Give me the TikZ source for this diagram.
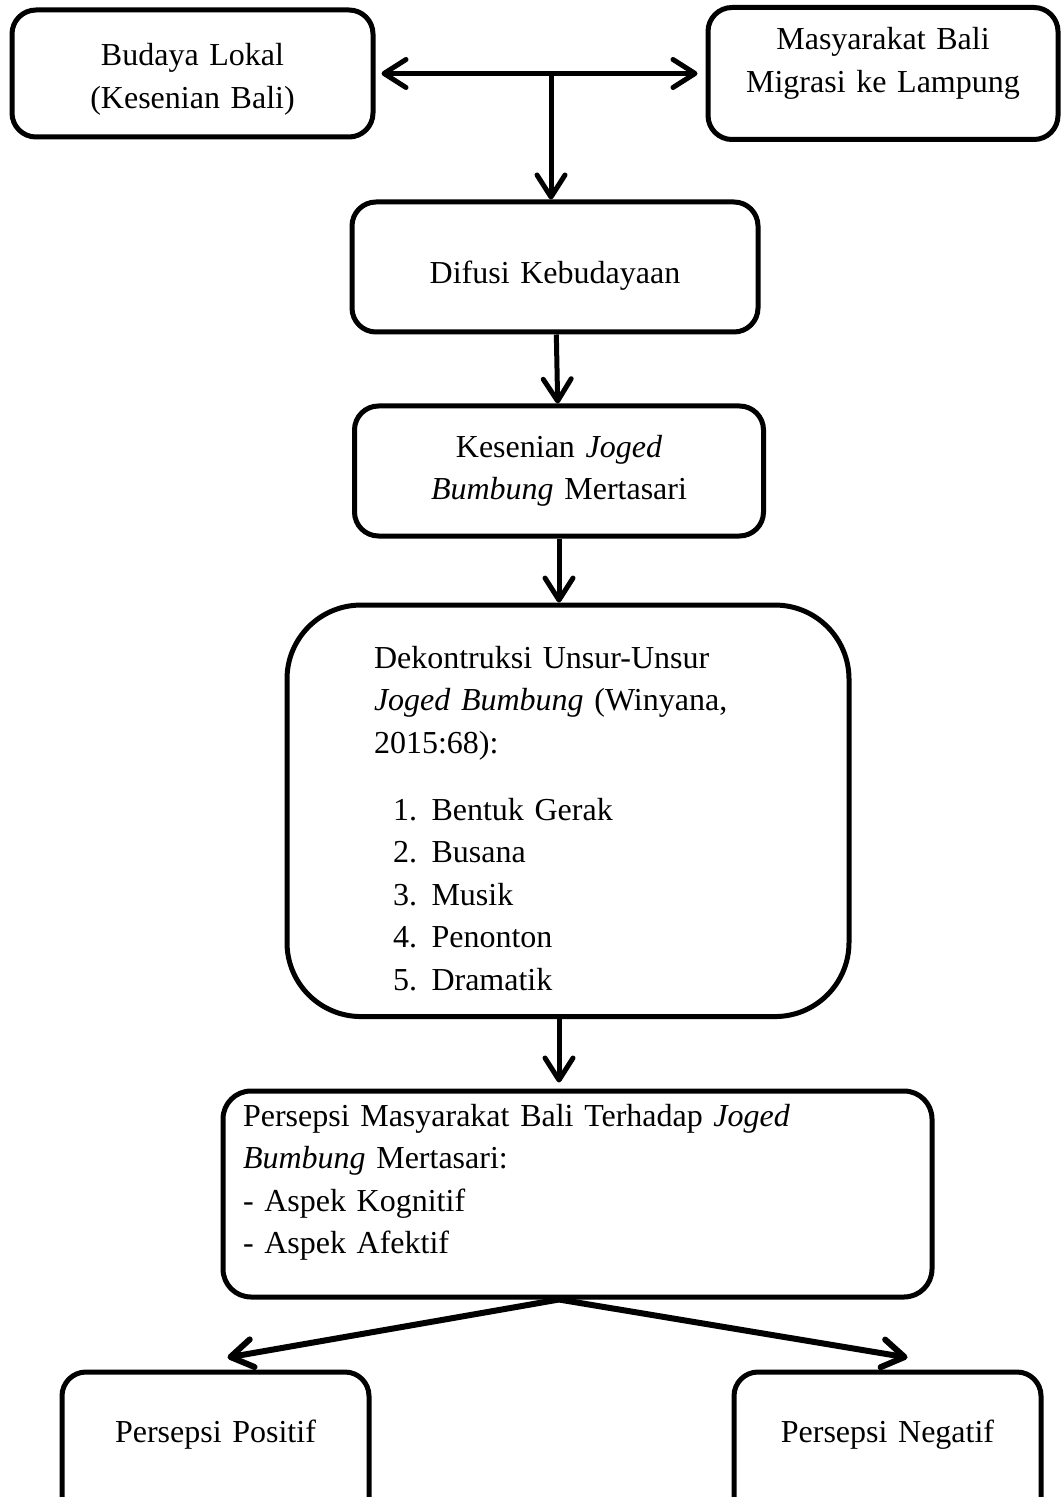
\documentclass[tikz,border=0pt]{standalone}
\usepackage{fontspec}
\setmainfont{Liberation Serif}
\usepackage{tikz}
\usetikzlibrary{arrows.meta}
\tikzstyle{block} = [rectangle, draw, line width=2.5pt, rounded corners=12pt, text width=140pt, text centered]
\tikzstyle{line} = [draw, line width=2.5pt, ->]
\tikzstyle{fork} = [draw, line width=3pt, ->]

\begin{document}
\begin{tikzpicture}[node distance=102pt, auto,
    font=\fontsize{16}{21.25}\selectfont,
    >={Straight Barb[length=11pt,width=14pt,round]}]
      \useasboundingbox (0,0) rectangle (530.5pt,-748.5pt);
      \node [block, minimum width=180.5pt, minimum height=63.5pt, text depth=19pt] (lokal) at (96.25pt,-36.75pt) {Budaya Lokal\\(Kesenian Bali)};
      \node [block, node distance=345.25pt, right of=lokal, minimum width=175pt, minimum height=66pt, text depth=35pt] (migrasi) {Masyarakat Bali\\Migrasi ke Lampung};
      \node [block, minimum width=203pt, minimum height=65pt, text width=190pt, text height=20pt] (difusi) at (277.5pt,-133.5pt) {Difusi Kebudayaan};
      \node [block, below of=difusi, xshift=2pt, minimum width=204.5pt, minimum height=65pt, text width=190pt] (kesenian) {Kesenian \textit{Joged}\\\textit{Bumbung} Mertasari};
      \node [block, node distance=169.9pt, below of=kesenian, xshift=4.5pt, minimum width=281pt, minimum height=205.75pt, rounded corners=37pt, text width=194pt, align=left, text depth=153.7pt] (dekon) {Dekontruksi Unsur-Unsur\\\textit{Joged Bumbung} (Winyana,\\2015:68):\\[12.25pt]
        \hspace*{9.5pt}\makebox[19.25pt][l]{1.}Bentuk Gerak\\
        \hspace*{9.5pt}\makebox[19.25pt][l]{2.}Busana\\
        \hspace*{9.5pt}\makebox[19.25pt][l]{3.}Musik\\
        \hspace*{9.5pt}\makebox[19.25pt][l]{4.}Penonton\\
        \hspace*{9.5pt}\makebox[19.25pt][l]{5.}Dramatik};
      \node [block, node distance=191.6pt, below of=dekon, xshift=4.75pt, minimum width=354.5pt, minimum height=103pt, rounded corners=14pt, text width=334.5pt, align=left, text depth=79pt] (persepsi) {Persepsi Masyarakat Bali Terhadap \textit{Joged}\\\textit{Bumbung} Mertasari:\\- Aspek Kognitif\\- Aspek Afektif};
      \node [block, minimum width=153.5pt, minimum height=80pt, text depth=21pt] (positif) at (107.75pt,-726pt) {Persepsi Positif};
      \node [block, minimum width=153.5pt, minimum height=80pt, text depth=21pt] (negatif) at (443.75pt,-726pt) {Persepsi Negatif};

      \coordinate (split) at (275.5pt,-36pt);
      \path [line, <->, shorten <=3pt, shorten >=4pt] (lokal) -- (migrasi);
      \path [line] (split) -- (split |- difusi.north);
      \path [line] (difusi) -- (kesenian);
      \path [line] (kesenian.south) -- (kesenian.south |- dekon.north);
      \path [line, shorten >=3pt] (dekon.south -| kesenian.south) -- (kesenian.south |- persepsi.north);
      \path [fork] (persepsi.south -| kesenian.south) -- ([xshift=6pt,yshift=6pt]positif.north);
      \path [fork] (persepsi.south -| kesenian.south) -- ([xshift=10pt,yshift=6pt]negatif.north);
    \end{tikzpicture}
\end{document}
